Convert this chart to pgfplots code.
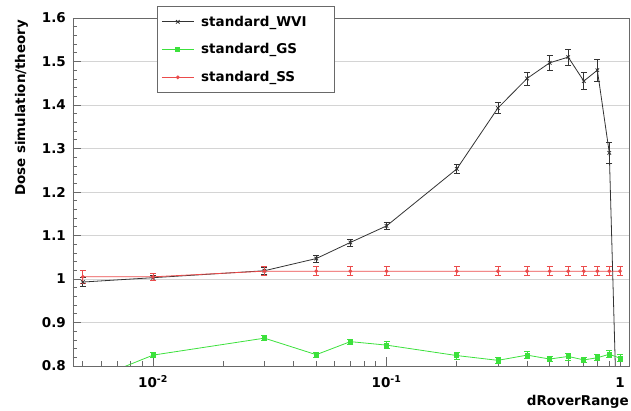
\documentclass[border=0pt]{standalone}
\usepackage{fontspec}
\setmainfont{DejaVu Sans}
\usepackage{pgfplots}
\pgfplotsset{compat=1.18}
\usepackage{pgfplotstable}
\definecolor{rgreen}{RGB}{60,225,60}
\definecolor{rred}{RGB}{235,75,75}
\definecolor{gridgray}{RGB}{212,212,212}
\definecolor{framegray}{RGB}{105,105,105}
\newcommand{\chartfont}{\fontsize{13.5}{16}\selectfont\bfseries}

\pgfplotstableread{
x y ey
0.005 0.993 0.010
0.01 1.003 0.005
0.03 1.019 0.008
0.05 1.047 0.008
0.07 1.084 0.008
0.1 1.122 0.008
0.2 1.253 0.010
0.3 1.393 0.012
0.4 1.461 0.015
0.5 1.497 0.017
0.6 1.510 0.018
0.7 1.455 0.020
0.8 1.480 0.025
0.9 1.290 0.025
1.0 0.420 0.020
}\wvi

\pgfplotstableread{
x y ey
0.005 0.760 0.005
0.01 0.825 0.006
0.03 0.864 0.006
0.05 0.826 0.006
0.07 0.856 0.006
0.1 0.848 0.008
0.2 0.824 0.008
0.3 0.813 0.006
0.4 0.825 0.008
0.5 0.816 0.006
0.6 0.822 0.008
0.7 0.814 0.006
0.8 0.819 0.007
0.9 0.827 0.008
1.0 0.818 0.008
}\gs

\pgfplotstableread{
x y ey
0.005 1.005 0.015
0.01 1.005 0.008
0.03 1.018 0.010
0.05 1.018 0.010
0.07 1.018 0.010
0.1 1.018 0.010
0.2 1.018 0.010
0.3 1.018 0.010
0.4 1.018 0.010
0.5 1.018 0.010
0.6 1.018 0.010
0.7 1.018 0.010
0.8 1.018 0.010
0.9 1.018 0.010
1.0 1.018 0.010
}\ss

\begin{document}
\begin{tikzpicture}
\useasboundingbox (-73pt,-45pt) rectangle (558pt,366pt);
\begin{axis}[
  at={(0pt,0pt)}, anchor=south west,
  scale only axis, width=556pt, height=348pt,
  xmode=log, xmin=0.00454, xmax=1.093,
  ymin=0.8, ymax=1.6,
  ytick={0.8,0.9,1,1.1,1.2,1.3,1.4,1.5,1.6},
  yticklabels={0.8,0.9,1,1.1,1.2,1.3,1.4,1.5,1.6},
  minor y tick num=4,
  xtick={0.01,0.1,1},
  xticklabels={10\textsuperscript{-2},10\textsuperscript{-1},1},
  xtick pos=bottom, ytick pos=left,
  major tick length=8pt, minor tick length=4pt,
  tick style={framegray, line width=0.7pt},
  ymajorgrids=true,
  y grid style={gridgray, line width=0.9pt},
  axis line style={framegray, line width=0.9pt},
  ticklabel style={font=\chartfont},
  yticklabel style={anchor=east, inner sep=0pt, xshift=-7pt},
  xticklabel style={anchor=base, inner sep=0pt, yshift=-22pt},
  xlabel={dRoverRange},
  ylabel={Dose simulation/theory},
  xlabel style={font=\chartfont, at={(axis description cs:1,0)}, anchor=north east, inner sep=0pt, yshift=-29pt},
  ylabel style={font=\fontsize{13.4}{15}\selectfont\bfseries, at={(axis description cs:-0.0863,0.995)}, anchor=base east, inner sep=0pt},
  legend style={at={(0.151,1.0345)}, anchor=north west, draw=framegray, line width=0.9pt,
    font=\chartfont, row sep=12pt, inner xsep=4pt, inner ysep=7.5pt, cells={anchor=west}},
  legend cell align=left,
  legend image code/.code={\draw[mark repeat=2,mark phase=2,line width=0.8pt] plot coordinates {(0pt,0pt) (16pt,0pt) (32pt,0pt)};},
]
% axis tick marks (frame decoration)
\pgfplotsinvokeforeach{0.82,0.84,0.86,0.88,0.92,0.94,0.96,0.98,1.02,1.04,1.06,1.08,1.12,1.14,1.16,1.18,1.22,1.24,1.26,1.28,1.32,1.34,1.36,1.38,1.42,1.44,1.46,1.48,1.52,1.54,1.56,1.58}{
  \draw[framegray, line width=0.7pt] (axis cs:0.00454,#1) -- ++(4pt,0pt);}
\pgfplotsinvokeforeach{0.9,1,1.1,1.2,1.3,1.4,1.5}{
  \draw[framegray, line width=0.7pt] (axis cs:0.00454,#1) -- ++(8pt,0pt);}
\pgfplotsinvokeforeach{0.005,0.006,0.007,0.008,0.009,0.02,0.03,0.04,0.05,0.06,0.07,0.08,0.09,0.2,0.3,0.4,0.5,0.6,0.7,0.8,0.9}{
  \draw[framegray, line width=0.7pt] (axis cs:#1,0.8) -- ++(0pt,4.5pt);}
\pgfplotsinvokeforeach{0.01,0.1,1}{
  \draw[framegray, line width=0.7pt] (axis cs:#1,0.8) -- ++(0pt,9pt);}
\addplot[color=black!80, line width=0.8pt, mark=x, mark size=2.5pt,
  error bars/.cd, y dir=both, y explicit,
  error bar style={line width=0.7pt},
  error mark options={rotate=90, mark size=3pt, line width=0.7pt}]
  table[x=x,y=y,y error=ey] {\wvi};
\addlegendentry{\hspace*{5pt}standard\_WVI\hspace*{22pt}}
\addplot[color=rgreen, line width=0.8pt, mark=square*, mark size=2pt,
  error bars/.cd, y dir=both, y explicit,
  error bar style={line width=0.7pt},
  error mark options={rotate=90, mark size=3pt, line width=0.7pt}]
  table[x=x,y=y,y error=ey] {\gs};
\addlegendentry{\hspace*{5pt}standard\_GS}
\addplot[color=rred, line width=0.8pt, mark=*, mark size=1.5pt,
  error bars/.cd, y dir=both, y explicit,
  error bar style={line width=0.7pt},
  error mark options={rotate=90, mark size=3pt, line width=0.7pt}]
  table[x=x,y=y,y error=ey] {\ss};
\addlegendentry{\hspace*{5pt}standard\_SS}
\end{axis}
\end{tikzpicture}
\end{document}
